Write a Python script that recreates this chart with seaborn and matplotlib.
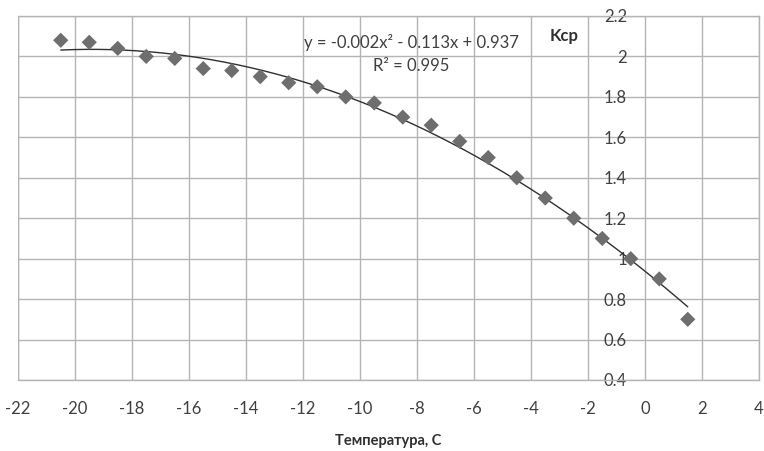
import numpy as np
import pandas as pd
import seaborn as sns
import matplotlib
matplotlib.use("Agg")
import matplotlib.pyplot as plt

temperature = [-20.5, -19.5, -18.5, -17.5, -16.5, -15.5, -14.5, -13.5, -12.5, -11.5,
               -10.5, -9.5, -8.5, -7.5, -6.5, -5.5, -4.5, -3.5, -2.5, -1.5,
               -0.5, 0.5, 1.5]
kcp = [2.08, 2.07, 2.04, 2.00, 1.99, 1.94, 1.93, 1.90, 1.87, 1.85,
       1.80, 1.77, 1.70, 1.66, 1.58, 1.50, 1.40, 1.30, 1.20, 1.10,
       1.00, 0.90, 0.70]
x_ticks = [-22, -20, -18, -16, -14, -12, -10, -8, -6, -4, -2, 0, 2, 4]
y_ticks = [0.4, 0.6, 0.8, 1.0, 1.2, 1.4, 1.6, 1.8, 2.0, 2.2]
y_tick_labels = ["0.4", "0.6", "0.8", "1", "1.2", "1.4", "1.6", "1.8", "2", "2.2"]
equation = "y = -0.002x² - 0.113x + 0.937"
r2_text = "R² = 0.995"

sns.set_theme(style="white")
plt.rcParams['font.family'] = ['Lato', 'DejaVu Sans']

df = pd.DataFrame({"t": temperature, "k": kcp})
coef = np.polyfit(df["t"], df["k"], 2)
xs = np.linspace(min(temperature), max(temperature), 200)
trend = pd.DataFrame({"t": xs, "k": np.polyval(coef, xs)})

fig = plt.figure(figsize=(7.64, 4.51), dpi=100)
ax = fig.add_axes([18/764, 1-380/451, (759-18)/764, (380-16)/451])

grid_c = "#b4b4b4"
sns.lineplot(data=trend, x="t", y="k", ax=ax, color="#303030", linewidth=1.0, zorder=3)
sns.scatterplot(data=df, x="t", y="k", ax=ax, marker="D", s=60, color="#6e6e6e",
                edgecolor="none", zorder=4)

ax.set_xlim(-22, 4)
ax.set_ylim(0.4, 2.2)
ax.set_xticks(x_ticks)
ax.set_xticklabels([str(v) for v in x_ticks])
ax.set_yticks(y_ticks)
ax.set_yticklabels(y_tick_labels)
ax.grid(True, color=grid_c, linewidth=1.0)
ax.set_axisbelow(True)

ax.spines['left'].set_position(('data', 0))
ax.spines['left'].set_visible(False)
for s in ['top', 'right', 'bottom']:
    ax.spines[s].set_color(grid_c)
    ax.spines[s].set_linewidth(1.0)
ax.axvline(-22, color=grid_c, linewidth=1.0, zorder=1)

ax.tick_params(axis='y', length=0, pad=13, labelsize=12, labelcolor="#404040")
ax.tick_params(axis='x', length=0, pad=15, labelsize=12, labelcolor="#404040")
for lbl in ax.get_yticklabels():
    lbl.set_zorder(5)

ax.set_ylabel("")
ax.set_xlabel("Температура, С", fontsize=10.5, fontweight="bold", color="#303030", labelpad=12)

ax.text(-8.2, 2.012, equation + "\n" + r2_text, ha="center", va="center",
        fontsize=12, color="#404040", linespacing=1.5)
ax.text(-2.85, 2.1, "Kcp", ha="center", va="center", fontsize=12,
        fontweight="bold", color="#303030")

fig.savefig("out.png", dpi=100)
